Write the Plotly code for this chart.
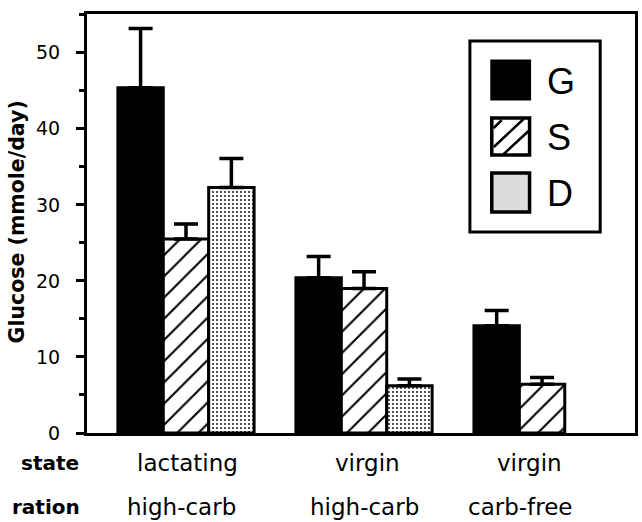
import plotly.graph_objects as go

# ---- data ----
groups = [0, 1, 2]
states = ["lactating", "virgin", "virgin"]
rations = ["high-carb", "high-carb", "carb-free"]
state_label_x = [0.01, 1.02, 1.93]
ration_label_x = [-0.025, 1.0, 1.875]

series_names = ["G", "S", "D"]
G_vals = [45.4, 20.4, 14.1]
G_err = [7.8, 2.8, 2.0]
S_vals = [25.5, 19.0, 6.4]
S_err = [2.0, 2.2, 0.9]
D_vals = [32.3, 6.2, None]
D_err = [3.8, 0.9, None]

yticks = [0, 10, 20, 30, 40, 50]

# ---- layout helpers (pixel -> paper) ----
PL, PR, PT, PB = 87, 638, 14, 433
def px(x):
    return (x - PL) / (PR - PL)
def py(y):
    return (PB - y) / (PB - PT)

FONT = "DejaVu Sans, Verdana, sans-serif"
LFONT = "Liberation Sans, Arial, Helvetica, sans-serif"

def err(arr):
    return dict(type="data", symmetric=False,
                array=[e if e is not None else 0 for e in arr],
                arrayminus=[0] * len(arr),
                color="black", thickness=3.5, width=12, visible=True)

fig = go.Figure()
fig.add_trace(go.Bar(
    x=groups, y=G_vals, name=series_names[0], error_y=err(G_err),
    marker=dict(color="black", line=dict(color="black", width=3)),
    showlegend=False))
fig.add_trace(go.Bar(
    x=groups, y=S_vals, name=series_names[1], error_y=err(S_err),
    marker=dict(color="white", line=dict(color="black", width=3),
                pattern=dict(shape="/", size=15, solidity=0.14, fgopacity=1,
                             fgcolor="black", bgcolor="white", fillmode="overlay")),
    showlegend=False))
fig.add_trace(go.Bar(
    x=groups, y=D_vals, name=series_names[2], error_y=err(D_err),
    marker=dict(color="white", line=dict(color="black", width=3),
                pattern=dict(shape=".", size=4, solidity=0.16, fgopacity=1,
                             fgcolor="black", bgcolor="white", fillmode="overlay")),
    showlegend=False))

fig.update_layout(
    width=642, height=522,
    margin=dict(l=PL, r=642 - PR, t=PT, b=522 - PB, pad=0),
    paper_bgcolor="white", plot_bgcolor="white",
    barmode="group", bargap=0.235, bargroupgap=0,
    font=dict(family=FONT, color="black", size=19),
    xaxis=dict(range=[-0.556, 2.522], showticklabels=False, ticks="",
               showgrid=False, zeroline=False, showline=True, mirror=True,
               linecolor="black", linewidth=3),
    yaxis=dict(range=[0, 55.1], tickvals=yticks, ticks="outside", ticklen=8,
               tickwidth=3, tickcolor="black", ticklabelstandoff=12,
               minor=dict(dtick=5, tick0=0, ticks="outside", ticklen=5,
                          tickwidth=3, tickcolor="black"),
               showgrid=False, zeroline=False, showline=True, mirror=True,
               linecolor="black", linewidth=3,
               tickfont=dict(size=19, family=FONT)),
)

ann = []
# y-axis title
ann.append(dict(text="<b>Glucose (mmole/day)</b>", xref="paper", yref="paper",
                x=px(17), y=py(222), textangle=-90, showarrow=False,
                font=dict(size=20.5, family=FONT), xanchor="center", yanchor="middle"))
# row headers
ann.append(dict(text="<b>state</b>", xref="paper", yref="paper", x=px(81), y=py(463),
                xanchor="right", yanchor="middle", showarrow=False,
                font=dict(size=20, family=FONT)))
ann.append(dict(text="<b>ration</b>", xref="paper", yref="paper", x=px(82), y=py(507),
                xanchor="right", yanchor="middle", showarrow=False,
                font=dict(size=20, family=FONT)))
for xv, s in zip(state_label_x, states):
    ann.append(dict(text=s, xref="x", yref="paper", x=xv, y=py(463),
                    xanchor="center", yanchor="middle", showarrow=False,
                    font=dict(size=23, family=FONT)))
for xv, r in zip(ration_label_x, rations):
    ann.append(dict(text=r, xref="x", yref="paper", x=xv, y=py(507),
                    xanchor="center", yanchor="middle", showarrow=False,
                    font=dict(size=23, family=FONT)))

# legend (drawn)
shapes = []
shapes.append(dict(type="rect", xref="paper", yref="paper",
                   x0=px(472), x1=px(603), y0=py(232), y1=py(41),
                   line=dict(color="black", width=3), fillcolor="white", layer="above"))
sw_x0, sw_x1 = 494, 532
rows = [(61, 99), (118, 155), (173, 212)]
# G swatch
shapes.append(dict(type="rect", xref="paper", yref="paper", x0=px(sw_x0), x1=px(sw_x1),
                   y0=py(rows[0][1]), y1=py(rows[0][0]), fillcolor="black",
                   line=dict(color="black", width=3), layer="above"))
# S swatch
shapes.append(dict(type="rect", xref="paper", yref="paper", x0=px(sw_x0), x1=px(sw_x1),
                   y0=py(rows[1][1]), y1=py(rows[1][0]), fillcolor="white",
                   line=dict(color="black", width=3.5), layer="above"))
for (a, b, c, d) in [(496, 147, 526, 119), (506, 154, 531, 131), (496, 128, 504, 120)]:
    shapes.append(dict(type="line", xref="paper", yref="paper", x0=px(a), y0=py(b),
                       x1=px(c), y1=py(d), line=dict(color="black", width=2.5), layer="above"))
# D swatch
shapes.append(dict(type="rect", xref="paper", yref="paper", x0=px(sw_x0), x1=px(sw_x1),
                   y0=py(rows[2][1]), y1=py(rows[2][0]), fillcolor="#dcdcdc",
                   line=dict(color="black", width=3.5), layer="above"))
for name, (t, b) in zip(series_names, rows):
    ann.append(dict(text=name, xref="paper", yref="paper", x=px(548), y=py((t + b) / 2 + 1),
                    xanchor="left", yanchor="middle", showarrow=False,
                    font=dict(size=36, family=LFONT)))

fig.update_layout(annotations=ann, shapes=shapes)
fig.write_html("out.html", config={"displayModeBar": False},
               post_script="document.body.style.margin='0';document.body.style.overflow='hidden';")
